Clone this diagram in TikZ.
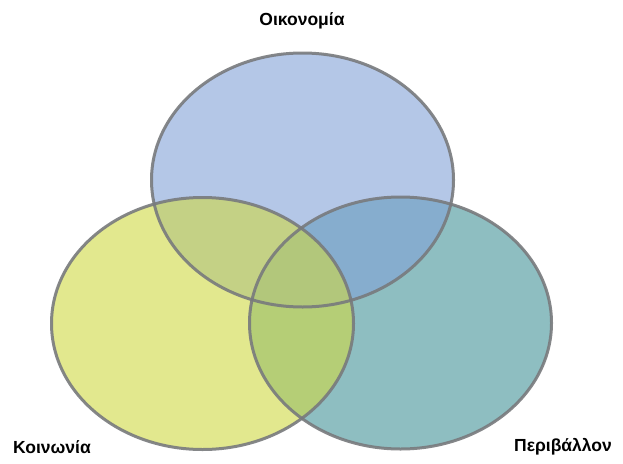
\documentclass[tikz,border=0pt]{standalone}
\usepackage{fontspec}
\setmainfont{Liberation Sans}
\definecolor{cblue}{RGB}{130,162,215}
\definecolor{cyellow}{RGB}{208,217,68}
\definecolor{cteal}{RGB}{68,147,153}
\definecolor{cline}{RGB}{120,122,125}
\begin{document}
\begin{tikzpicture}[x=1pt,y=-1pt,
  setfill/.style={fill opacity=0.6, draw=none},
  setline/.style={draw=cline, line width=3pt, draw opacity=0.9},
  lbl/.style={font=\fontsize{17.5}{20}\selectfont\bfseries, text=black, inner sep=0pt}]
\useasboundingbox (0,0) rectangle (623,463);
\fill[white] (0,0) rectangle (623,463);
\coordinate (ctop) at (302.5,180);
\coordinate (cleft) at (202.5,323.5);
\coordinate (cright) at (400.5,323);
\fill[cteal, setfill] (cright) ellipse [x radius=151, y radius=126];
\fill[cblue, setfill] (ctop) ellipse [x radius=151, y radius=127];
\fill[cyellow, setfill] (cleft) ellipse [x radius=151, y radius=126];
\draw[setline] (cright) ellipse [x radius=151, y radius=126];
\draw[setline] (ctop) ellipse [x radius=151, y radius=127];
\draw[setline] (cleft) ellipse [x radius=151, y radius=126];
\node[lbl] (econ) at (302,21) {Οικονομία};
\node[lbl] (soc) at (52,447) {Κοινωνία};
\node[lbl] (env) at (563,447) {Περιβάλλον};
\end{tikzpicture}
\end{document}
